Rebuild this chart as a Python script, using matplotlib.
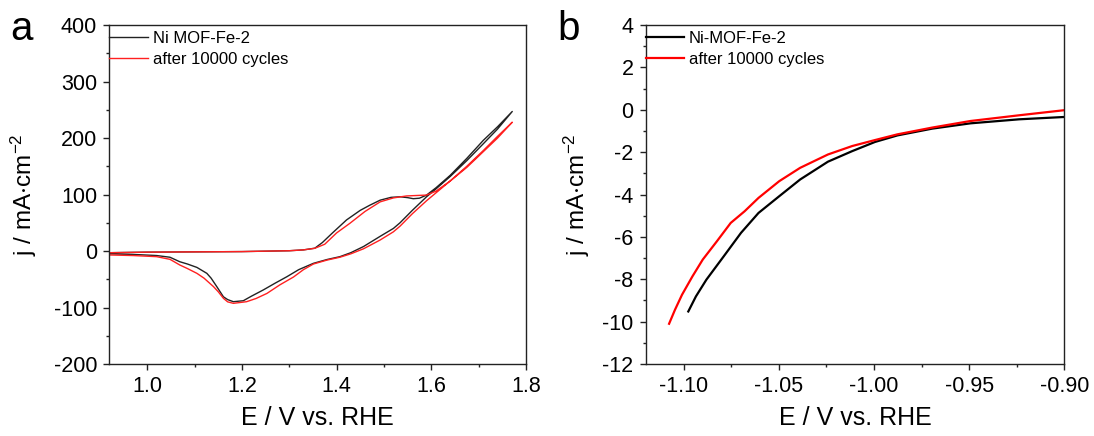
import matplotlib
matplotlib.use("Agg")
import matplotlib.pyplot as plt
from matplotlib.ticker import MultipleLocator, FormatStrFormatter

plt.rcParams['font.family'] = ['Liberation Sans', 'DejaVu Sans']
plt.rcParams['mathtext.default'] = 'regular'
plt.rcParams['axes.unicode_minus'] = False

# ---------- Panel a: CV (forward and reverse sweeps) ----------
a_black_fwd_E = [0.92, 1.00, 1.10, 1.20, 1.30, 1.33, 1.354, 1.37, 1.39, 1.421, 1.45, 1.47,
                 1.492, 1.515, 1.534, 1.55, 1.562, 1.575, 1.59, 1.61, 1.64, 1.675, 1.71, 1.74, 1.771]
a_black_fwd_j = [-3, -2, -1.5, -1, 0.5, 2, 5, 15, 31, 55, 72, 81,
                 90, 95, 96, 94.5, 92.6, 93.5, 99, 112, 134, 164, 196, 220, 247]
a_black_rev_E = [1.771, 1.74, 1.71, 1.675, 1.64, 1.61, 1.59, 1.56, 1.534, 1.52, 1.492, 1.457,
                 1.43, 1.407, 1.38, 1.351, 1.32, 1.295, 1.27, 1.245, 1.22, 1.203, 1.182, 1.17,
                 1.161, 1.147, 1.135, 1.126, 1.105, 1.085, 1.069, 1.048, 1.02, 0.97, 0.92]
a_black_rev_j = [247, 216, 190, 160, 132, 110, 96, 72, 50, 40, 26, 8,
                 -3, -10, -15, -21.8, -33, -45.5, -57, -69, -80, -88, -89.7, -86,
                 -81, -63, -48, -39.5, -29, -23, -19, -11, -8, -6, -5]

a_red_fwd_E = [0.92, 1.00, 1.10, 1.20, 1.30, 1.33, 1.354, 1.375, 1.40, 1.428, 1.46, 1.492,
               1.52, 1.548, 1.575, 1.59, 1.61, 1.64, 1.675, 1.71, 1.74, 1.771]
a_red_fwd_j = [-3, -2, -1.5, -1, 0.5, 2, 4.8, 12, 32, 49, 70, 87,
               94, 97.5, 98.5, 99, 106, 124, 150, 178, 203, 228]
a_red_rev_E = [1.771, 1.74, 1.71, 1.675, 1.64, 1.61, 1.59, 1.56, 1.534, 1.52, 1.492, 1.457,
               1.43, 1.407, 1.38, 1.351, 1.33, 1.309, 1.28, 1.253, 1.23, 1.21, 1.182, 1.17,
               1.161, 1.15, 1.14, 1.12, 1.105, 1.085, 1.069, 1.055, 1.048, 1.02, 0.97, 0.92]
a_red_rev_j = [228, 200, 176, 148, 124, 103, 89, 66, 44, 34, 19.5, 4,
               -5, -11, -16, -23, -33, -46, -60, -75, -84, -89.7, -92.6, -90,
               -83.7, -72, -63, -48, -39.5, -31, -24.8, -18, -14.7, -10, -8, -7]

# ---------- Panel b: LSV ----------
b_black_E = [-1.0976, -1.0936, -1.0881, -1.079, -1.0699, -1.0607, -1.0498, -1.0388, -1.0242,
             -1.0114, -0.9995, -0.9877, -0.9694, -0.9493, -0.9237, -0.90]
b_black_j = [-9.52, -8.81, -8.02, -6.92, -5.81, -4.87, -4.08, -3.29, -2.45,
             -1.95, -1.52, -1.21, -0.89, -0.64, -0.45, -0.34]
b_red_E = [-1.1077, -1.1046, -1.1009, -1.0954, -1.09, -1.0826, -1.0753, -1.068, -1.0607,
           -1.0498, -1.0388, -1.0242, -1.0114, -0.9995, -0.9877, -0.9694, -0.9493, -0.9237, -0.90]
b_red_j = [-10.1, -9.44, -8.73, -7.86, -7.07, -6.21, -5.34, -4.79, -4.16,
           -3.37, -2.74, -2.11, -1.71, -1.43, -1.16, -0.84, -0.53, -0.26, -0.02]

label_a_black = "Ni MOF-Fe-2"
label_b_black = "Ni-MOF-Fe-2"
label_red = "after 10000 cycles"
xlabel = "E / V vs. RHE"
ylabel = r"j / mA$\cdot$cm$^{-2}$"

fig = plt.figure(figsize=(10.94, 4.36), dpi=100)
ax1 = fig.add_axes([0.0999, 0.1651, 0.3809, 0.7775])
ax2 = fig.add_axes([0.5902, 0.1651, 0.3826, 0.7775])

ax1.plot(a_black_fwd_E + a_black_rev_E, a_black_fwd_j + a_black_rev_j, color='#222222', lw=1.0,
         label=label_a_black)
ax1.plot(a_red_fwd_E + a_red_rev_E, a_red_fwd_j + a_red_rev_j, color='#ff2020', lw=1.0,
         label=label_red)
ax2.plot(b_black_E, b_black_j, color='black', lw=1.6, label=label_b_black)
ax2.plot(b_red_E, b_red_j, color='#ff0000', lw=1.6, label=label_red)

ax1.set_xlim(0.92, 1.8)
ax1.set_ylim(-200, 400)
ax1.xaxis.set_major_locator(MultipleLocator(0.2))
ax1.xaxis.set_minor_locator(MultipleLocator(0.1))
ax1.yaxis.set_major_locator(MultipleLocator(100))
ax1.yaxis.set_minor_locator(MultipleLocator(50))
ax1.xaxis.set_major_formatter(FormatStrFormatter('%.1f'))

ax2.set_xlim(-1.12, -0.90)
ax2.set_ylim(-12, 4)
ax2.xaxis.set_major_locator(MultipleLocator(0.05))
ax2.xaxis.set_minor_locator(MultipleLocator(0.025))
ax2.yaxis.set_major_locator(MultipleLocator(2))
ax2.yaxis.set_minor_locator(MultipleLocator(1))
ax2.xaxis.set_major_formatter(FormatStrFormatter('%.2f'))

for ax, ylx in ((ax1, -0.168), (ax2, -0.128)):
    for sp in ax.spines.values():
        sp.set_linewidth(1.0)
        sp.set_color('#222222')
    ax.tick_params(which='major', direction='out', length=4.3, width=1.0, labelsize=15.5,
                   top=False, right=False, pad=4.5, colors='#222222', labelcolor='black')
    ax.tick_params(which='minor', direction='out', length=2.3, width=1.0,
                   top=False, right=False, colors='#222222')
    ax.set_xlabel(xlabel, fontsize=18)
    ax.set_ylabel(ylabel, fontsize=17.5)
    ax.xaxis.set_label_coords(0.5, -0.125)
    ax.yaxis.set_label_coords(ylx, 0.5)
    ax.legend(loc='upper left', bbox_to_anchor=(0.0, 0.982), frameon=False, fontsize=12,
              handlelength=2.3, handletextpad=0.3, borderpad=0, borderaxespad=0,
              labelspacing=0.35)

fig.text(22 / 1094, 1 - 29 / 436, "a", fontsize=29, ha='center', va='center')
fig.text(569 / 1094, 1 - 29 / 436, "b", fontsize=29, ha='center', va='center')

fig.savefig("out.png", dpi=100)
